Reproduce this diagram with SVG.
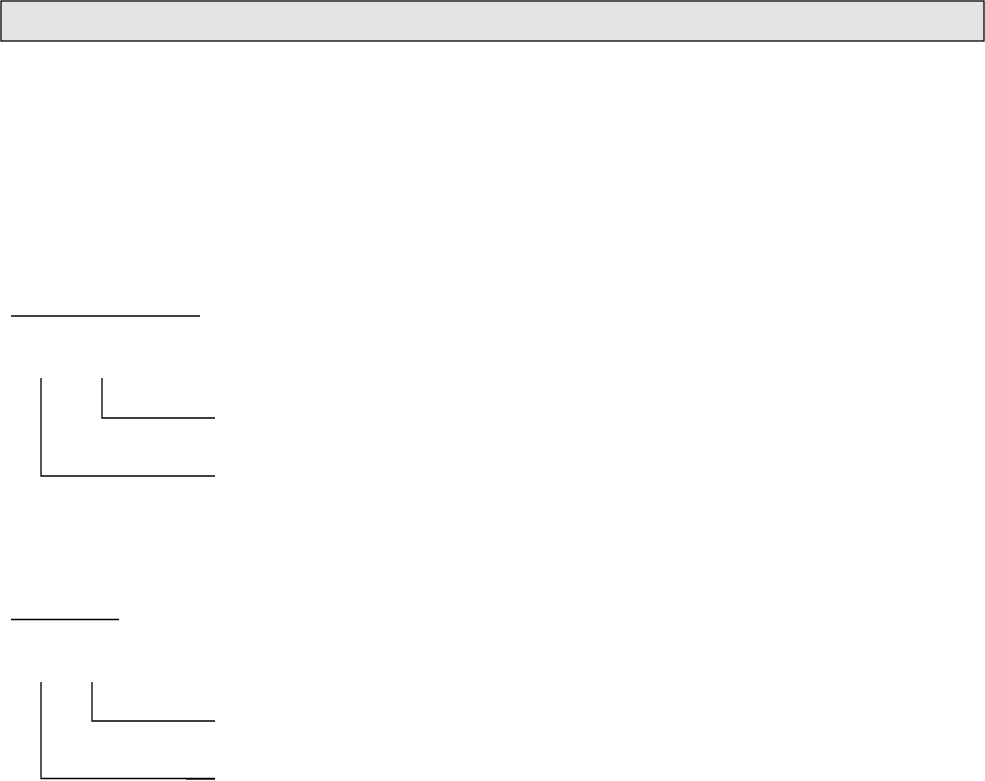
<svg xmlns="http://www.w3.org/2000/svg" width="985" height="781" viewBox="0 0 985 781">
<style>
.ln{fill:none;stroke:#000;stroke-width:1.3}
</style>
<rect width="985" height="781" fill="#fff"/>
<g id="header"><rect x="1" y="1" width="983" height="40" fill="#e4e4e4" stroke="#000" stroke-width="1.3"/></g>
<g id="section1">
<line class="ln" x1="11" y1="316" x2="200" y2="316"/>
<polyline class="ln" points="41,378 41,476 215,476"/>
<polyline class="ln" points="102,378 102,418 215,418"/>
</g>
<g id="section2">
<line class="ln" x1="11" y1="619.5" x2="119" y2="619.5" stroke-width="2"/>
<polyline class="ln" points="41,682 41,778.5 215,778.5"/>
<polyline class="ln" points="92,682 92,721 215,721"/>
<line class="ln" x1="186" y1="779" x2="215" y2="779" stroke-width="2"/>
</g>
</svg>
